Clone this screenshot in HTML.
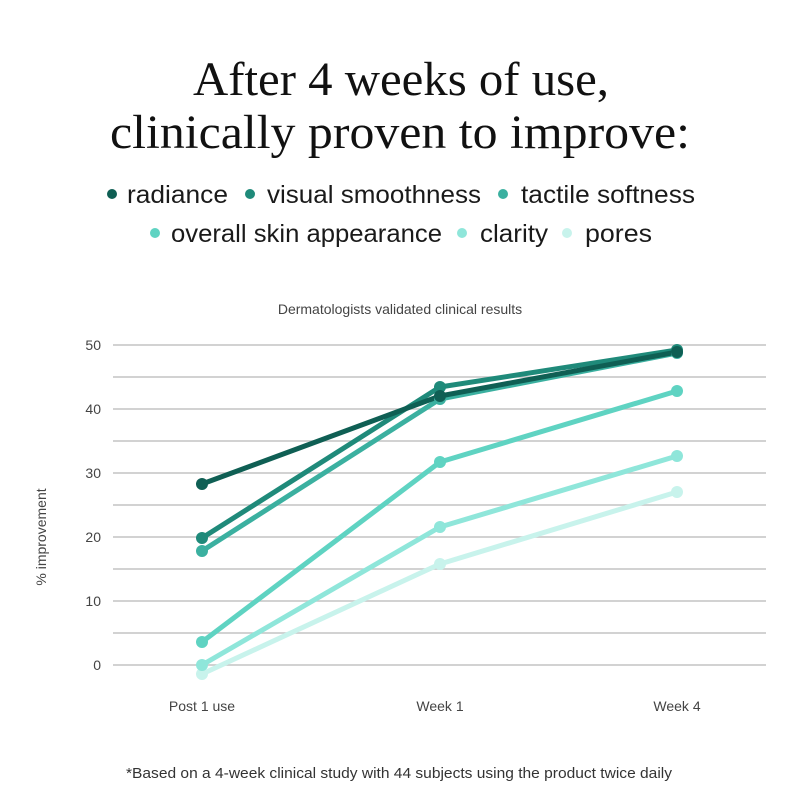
<!DOCTYPE html>
<html><head><style>
html,body{margin:0;padding:0;background:#fff;width:800px;height:800px;overflow:hidden}
</style></head><body>
<svg width="800" height="800" xmlns="http://www.w3.org/2000/svg">
<rect width="800" height="800" fill="#fff"/>
<g font-family="Liberation Serif, serif" font-size="48" fill="#111">
<text x="193" y="95" textLength="416" lengthAdjust="spacingAndGlyphs">After 4 weeks of use,</text>
<text x="110" y="148" textLength="580" lengthAdjust="spacingAndGlyphs">clinically proven to improve:</text>
</g>
<g font-family="Liberation Sans, sans-serif" font-size="25" fill="#1a1a1a">
<circle cx="112" cy="194" r="5" fill="#0f5f54"/><text x="127" y="203" textLength="101" lengthAdjust="spacingAndGlyphs">radiance</text>
<circle cx="250" cy="194" r="5" fill="#1f8a7a"/><text x="267" y="203" textLength="214" lengthAdjust="spacingAndGlyphs">visual smoothness</text>
<circle cx="503" cy="194" r="5" fill="#3bb0a0"/><text x="521" y="203" textLength="174" lengthAdjust="spacingAndGlyphs">tactile softness</text>
<circle cx="155" cy="233" r="5" fill="#5fd3c2"/><text x="171" y="242" textLength="271" lengthAdjust="spacingAndGlyphs">overall skin appearance</text>
<circle cx="462" cy="233" r="5" fill="#8fe6da"/><text x="480" y="242" textLength="68" lengthAdjust="spacingAndGlyphs">clarity</text>
<circle cx="567" cy="233" r="5" fill="#c8f3ec"/><text x="585" y="242" textLength="67" lengthAdjust="spacingAndGlyphs">pores</text>
</g>
<text x="400" y="314" font-family="Liberation Sans, sans-serif" font-size="14" fill="#444" text-anchor="middle">Dermatologists validated clinical results</text>
<g stroke="#c4c4c4" stroke-width="1.5">
<line x1="113" x2="766" y1="345" y2="345"/><line x1="113" x2="766" y1="377" y2="377"/>
<line x1="113" x2="766" y1="409" y2="409"/><line x1="113" x2="766" y1="441" y2="441"/>
<line x1="113" x2="766" y1="473" y2="473"/><line x1="113" x2="766" y1="505" y2="505"/>
<line x1="113" x2="766" y1="537" y2="537"/><line x1="113" x2="766" y1="569" y2="569"/>
<line x1="113" x2="766" y1="601" y2="601"/><line x1="113" x2="766" y1="633" y2="633"/>
<line x1="113" x2="766" y1="665" y2="665"/>
</g>
<g font-family="Liberation Sans, sans-serif" font-size="14" fill="#444" text-anchor="end">
<text x="101" y="350">50</text><text x="101" y="414">40</text><text x="101" y="478">30</text>
<text x="101" y="542">20</text><text x="101" y="606">10</text><text x="101" y="670">0</text>
</g>
<text transform="translate(46,537) rotate(-90)" font-family="Liberation Sans, sans-serif" font-size="14" fill="#444" text-anchor="middle">% improvement</text>
<g font-family="Liberation Sans, sans-serif" font-size="14" fill="#444" text-anchor="middle">
<text x="202" y="711">Post 1 use</text><text x="440" y="711">Week 1</text><text x="677" y="711">Week 4</text>
</g>
<g stroke-width="5" fill="none" stroke-linejoin="round">
<polyline stroke="#c8f3ec" points="202,674 440,564 677,492"/>
<polyline stroke="#8fe6da" points="202,665 440,527 677,456"/>
<polyline stroke="#5fd3c2" points="202,642 440,462 677,391"/>
<polyline stroke="#3bb0a0" points="202,551 440,399 677,353"/>
<polyline stroke="#1f8a7a" points="202,538 440,387 677,350"/>
<polyline stroke="#0f5f54" points="202,484 440,396 677,352"/>
</g>
<g>
<g fill="#c8f3ec"><circle cx="202" cy="674" r="6"/><circle cx="440" cy="564" r="6"/><circle cx="677" cy="492" r="6"/></g>
<g fill="#8fe6da"><circle cx="202" cy="665" r="6"/><circle cx="440" cy="527" r="6"/><circle cx="677" cy="456" r="6"/></g>
<g fill="#5fd3c2"><circle cx="202" cy="642" r="6"/><circle cx="440" cy="462" r="6"/><circle cx="677" cy="391" r="6"/></g>
<g fill="#3bb0a0"><circle cx="202" cy="551" r="6"/><circle cx="440" cy="399" r="6"/><circle cx="677" cy="353" r="6"/></g>
<g fill="#1f8a7a"><circle cx="202" cy="538" r="6"/><circle cx="440" cy="387" r="6"/><circle cx="677" cy="350" r="6"/></g>
<g fill="#0f5f54"><circle cx="202" cy="484" r="6"/><circle cx="440" cy="396" r="6"/><circle cx="677" cy="352" r="6"/></g>
</g>
<text x="126" y="778" textLength="546" lengthAdjust="spacingAndGlyphs" font-family="Liberation Sans, sans-serif" font-size="15" fill="#333">*Based on a 4-week clinical study with 44 subjects using the product twice daily</text>
</svg>
</body></html>
